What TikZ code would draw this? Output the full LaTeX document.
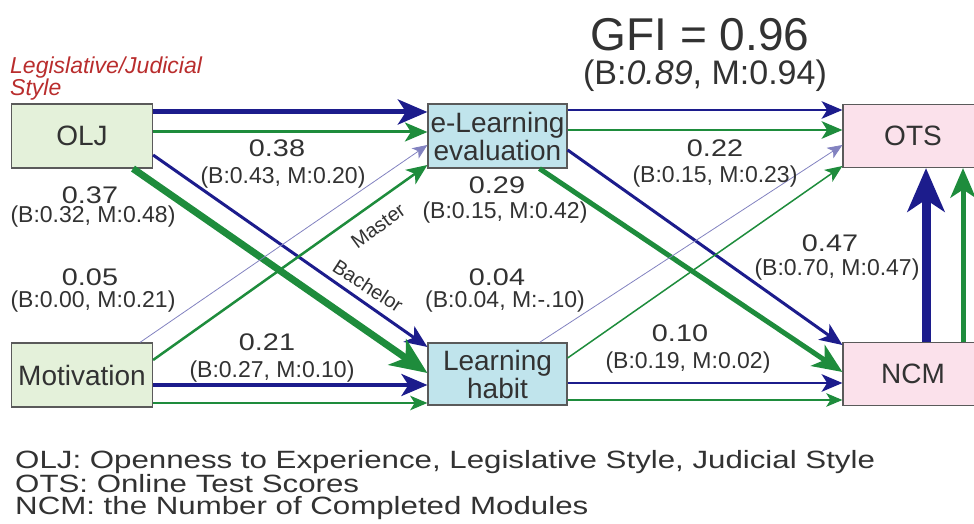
\documentclass[tikz,border=0pt]{standalone}
\usepackage{fontspec}
\setmainfont{Liberation Sans}
\newfontfamily\widefont[FakeStretch=1.2]{Liberation Sans}
\newfontfamily\legendfont[FakeStretch=1.25]{Liberation Sans}
\usetikzlibrary{arrows.meta}
\definecolor{pathblue}{RGB}{28,28,140}
\definecolor{pathgreen}{RGB}{30,140,60}
\definecolor{boxline}{RGB}{90,90,90}
\definecolor{infill}{RGB}{228,241,218}
\definecolor{midfill}{RGB}{192,228,236}
\definecolor{outfill}{RGB}{251,225,235}
\definecolor{legisred}{RGB}{185,45,45}
\definecolor{labelgray}{RGB}{50,50,50}
\tikzset{
  box/.style={draw=boxline, line width=1.2pt, minimum width=141pt, minimum height=64pt,
    inner sep=0pt, align=center, text=labelgray, font=\fontsize{28}{28}\selectfont},
  coef/.style={text=labelgray, inner sep=0pt, font=\widefont\fontsize{24}{24}\selectfont},
  split/.style={text=labelgray, inner sep=0pt, font=\fontsize{23}{23}\selectfont},
  tip/.style={-{Stealth[length=12pt 3.5, width=10pt 3, inset=3pt 1]}},
  bpath/.style={draw=pathblue, line width=#1, tip},
  gpath/.style={draw=pathgreen, line width=#1, tip}
}
\begin{document}
\begin{tikzpicture}[x=1pt, y=1pt]
\useasboundingbox (0,0) rectangle (974,524);
\node[box, fill=infill] (olj) at (82,388) {OLJ};
\node[box, fill=infill] (mot) at (82,149) {Motivation};
\node[box, fill=midfill, minimum width=139pt] (elearn) at (497.5,388) {e-Learning\\evaluation};
\node[box, fill=midfill, minimum width=139pt, minimum height=62pt] (habit) at (497.5,150) {Learning\\habit};
\node[box, fill=outfill, minimum width=140pt, minimum height=63pt] (ots) at (913,388) {OTS};
\node[box, fill=outfill, minimum width=140pt, minimum height=63pt] (ncm) at (913,150) {NCM};

\draw[bpath=5pt] ([yshift=24pt]olj.east) -- ([yshift=24pt]olj.east -| elearn.west);
\draw[gpath=3pt] ([yshift=4pt]olj.east) -- ([yshift=4pt]olj.east -| elearn.west);
\draw[bpath=3pt] ([yshift=-19pt]olj.east) -- ([yshift=27pt]habit.west);
\draw[gpath=7pt] ([xshift=51pt]olj.south) -- ([yshift=1pt]habit.west);
\draw[bpath=0.8pt, draw=pathblue!55] ([xshift=58pt]mot.north) -- ([yshift=-9pt]elearn.west);
\draw[gpath=2.5pt] ([yshift=15pt]mot.east) -- ([yshift=-29pt]elearn.west);
\draw[bpath=4pt] ([yshift=-10pt]mot.east) -- ([yshift=-10pt]mot.east -| habit.west);
\draw[gpath=1.5pt] ([yshift=-28pt]mot.east) -- ([yshift=-28pt]mot.east -| habit.west);
\draw[bpath=2.5pt] ([yshift=26pt]elearn.east) -- ([yshift=26pt]elearn.east -| ots.west);
\draw[gpath=2.5pt] ([yshift=6pt]elearn.east) -- ([yshift=6pt]elearn.east -| ots.west);
\draw[bpath=3pt] ([yshift=-14pt]elearn.east) -- ([yshift=29pt]ncm.west);
\draw[gpath=5pt] ([xshift=42pt]elearn.south) -- ([yshift=2pt]ncm.west);
\draw[bpath=0.8pt, draw=pathblue!55] ([xshift=42pt]habit.north) -- ([yshift=-9pt]ots.west);
\draw[gpath=1.5pt] ([yshift=16pt]habit.east) -- ([yshift=-30pt]ots.west);
\draw[bpath=2.5pt] ([yshift=-9pt]habit.east) -- ([yshift=-9pt]habit.east -| ncm.west);
\draw[gpath=1.2pt] ([yshift=-26pt]habit.east) -- ([yshift=-26pt]habit.east -| ncm.west);
\draw[bpath=9pt] ([xshift=13pt]ncm.north) -- ([xshift=13pt]ncm.north |- ots.south);
\draw[gpath=5pt] ([xshift=50pt]ncm.north) -- ([xshift=50pt]ncm.north |- ots.south);

\node[coef] (olj2el) at (277,376) {0.38};
\node[split] (olj2elsub) at (283,346) {(B:0.43, M:0.20)};
\node[coef] (olj2hab) at (90,329) {0.37};
\node[split] (olj2habsub) at (93,307) {(B:0.32, M:0.48)};
\node[coef] (mot2el) at (90,247) {0.05};
\node[split] (mot2elsub) at (93,222) {(B:0.00, M:0.21)};
\node[coef] (mot2hab) at (267,182) {0.21};
\node[split] (mot2habsub) at (272,152) {(B:0.27, M:0.10)};
\node[coef] (el2ncm) at (497,339) {0.29};
\node[split] (el2ncmsub) at (505,311) {(B:0.15, M:0.42)};
\node[coef] (el2ots) at (715,376) {0.22};
\node[split] (el2otssub) at (715,347) {(B:0.15, M:0.23)};
\node[coef] (hab2ots) at (497,247) {0.04};
\node[split] (hab2otssub) at (505,222) {(B:0.04, M:-.10)};
\node[coef] (ncm2ots) at (830,281) {0.47};
\node[split] (ncm2otssub) at (837,254) {(B:0.70, M:0.47)};
\node[coef] (hab2ncm) at (680,191) {0.10};
\node[split] (hab2ncmsub) at (688,161) {(B:0.19, M:0.02)};
\node[split, rotate=36, font=\fontsize{20}{20}\selectfont] (master) at (378,298) {Master};
\node[split, rotate=-33, font=\fontsize{20}{20}\selectfont] (bachelor) at (368,238) {Bachelor};

\node[text=labelgray, inner sep=0pt, font=\fontsize{46}{46}\selectfont] (gfi) at (700,489) {GFI = 0.96};
\node[text=labelgray, inner sep=0pt, font=\fontsize{34}{34}\selectfont] (gfisub) at (705,448) {(B:\textit{0.89}, M:0.94)};
\node[anchor=north west, align=left, inner sep=0pt, text=legisred,
  font=\itshape\fontsize{23}{22}\selectfont] (legis) at (10,467) {Legislative/Judicial\\Style};
\node[anchor=north west, align=left, inner sep=0pt, text=labelgray,
  font=\legendfont\fontsize{25}{22}\selectfont] (legend) at (15,74)
  {OLJ: Openness to Experience, Legislative Style, Judicial Style\\OTS: Online Test Scores\\NCM: the Number of Completed Modules};
\end{tikzpicture}
\end{document}
